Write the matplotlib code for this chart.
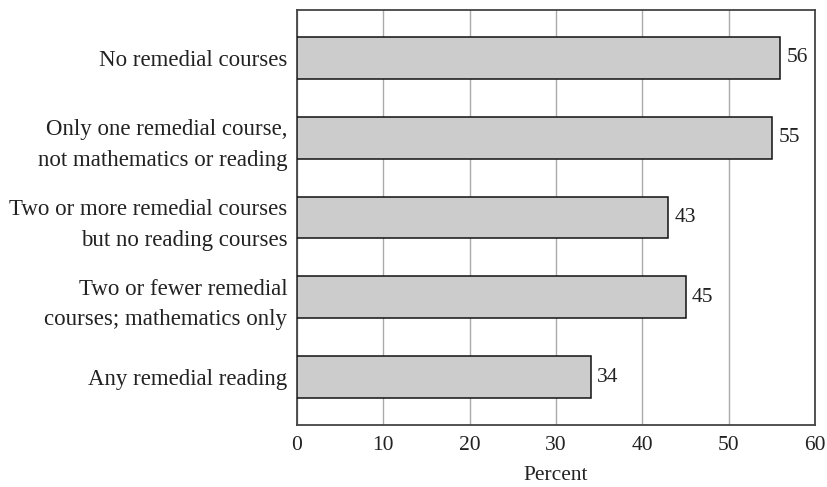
import matplotlib
matplotlib.use("Agg")
import matplotlib.pyplot as plt

categories = [
    "No remedial courses",
    "Only one remedial course,\nnot mathematics or reading",
    "Two or more remedial courses\nbut no reading courses",
    "Two or fewer remedial\ncourses; mathematics only",
    "Any remedial reading",
]
values = [56, 55, 43, 45, 34]
xticks = [0, 10, 20, 30, 40, 50, 60]

plt.rcParams["font.family"] = ["Liberation Serif", "DejaVu Serif"]

fig = plt.figure(figsize=(8.28, 4.87), dpi=100)
ax = fig.add_axes([0.3587, 0.1273, 0.6256, 0.8522])

ypos = list(range(len(categories)))
ax.barh(ypos, values, height=0.525, color="#cccccc", edgecolor="#111111",
        linewidth=1.1, zorder=3)
for y, v in zip(ypos, values):
    ax.text(v + 0.75, y, str(v), va="center", ha="left", fontsize=15.5, color="#222222")

ax.set_xlim(0, 60)
ax.set_ylim(len(categories) - 1 + 0.6, -0.6)
ax.set_xticks(xticks)
ax.set_yticks(ypos)
ax.set_yticklabels(categories, fontsize=16.5, linespacing=1.6, color="#222222")
ax.tick_params(axis="y", length=0, pad=7)
ax.tick_params(axis="x", length=0, pad=8, labelsize=15.5, labelcolor="#222222")
ax.grid(axis="x", color="#aaaaaa", linewidth=1.0, zorder=0)
ax.set_axisbelow(True)
for sp in ax.spines.values():
    sp.set_linewidth(1.3)
    sp.set_color("#444444")
ax.set_xlabel("Percent", fontsize=15.5, labelpad=8, color="#222222")

fig.savefig("out.png", dpi=100)
